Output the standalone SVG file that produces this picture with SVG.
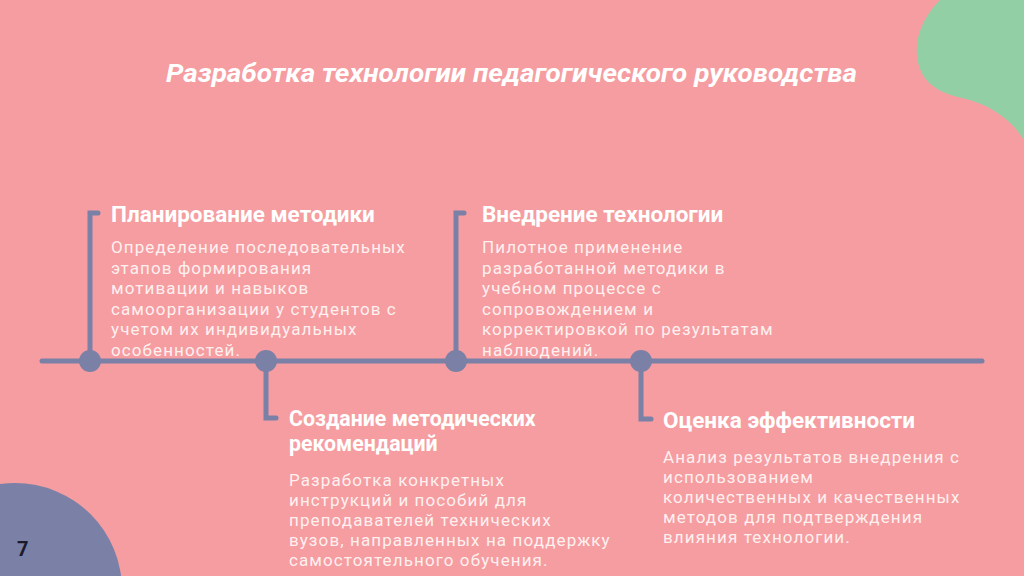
<svg xmlns="http://www.w3.org/2000/svg" width="1024" height="576" viewBox="0 0 1024 576">
<style>
.h{font-family:Roboto,"Liberation Sans",sans-serif;font-weight:bold;font-size:22.5px;fill:#ffffff}
.h2{font-family:Roboto,"Liberation Sans",sans-serif;font-weight:bold;font-size:21.3px;fill:#ffffff}
.b{font-family:Roboto,"Liberation Sans",sans-serif;font-size:17px;letter-spacing:1.1px;fill:#fff0f0}
.ln{stroke:#7A80A6;stroke-width:5;fill:none;stroke-linecap:round}
.dot{fill:#7A80A6}
</style>
<rect width="1024" height="576" fill="#F59DA0"/>
<path d="M940 0 C925 15 915 35 917 55 C919 80 935 92 962 98 C990 104 1012 120 1024 140 L1024 0 Z" fill="#92CFA5"/>
<circle cx="15" cy="590" r="107" fill="#7A80A6"/>
<text x="17" y="556" font-family="Roboto,'Liberation Sans',sans-serif" font-weight="bold" font-size="20" fill="#1a1a2a">7</text>
<text x="166" y="82" font-family="Roboto,'Liberation Sans',sans-serif" font-weight="bold" font-style="italic" font-size="26" fill="#ffffff" textLength="691" lengthAdjust="spacingAndGlyphs">Разработка технологии педагогического руководства</text>
<g id="connectors">
<line class="ln" x1="42" y1="361" x2="982" y2="361"/>
<polyline class="ln" points="98,213 90,213 90,361" stroke-linecap="butt"/>
<polyline class="ln" points="266,361 266,418 276,418" stroke-linecap="butt"/>
<polyline class="ln" points="464,213 456,213 456,361" stroke-linecap="butt"/>
<polyline class="ln" points="641,361 641,419 651,419" stroke-linecap="butt"/>
</g>
<g id="node1">
<circle class="dot" cx="90" cy="361" r="11"/>
<text class="h" x="111" y="222">Планирование методики</text>
<text class="b" x="111" y="253">Определение последовательных</text>
<text class="b" x="111" y="273.5">этапов формирования</text>
<text class="b" x="111" y="294">мотивации и навыков</text>
<text class="b" x="111" y="314.5">самоорганизации у студентов с</text>
<text class="b" x="111" y="335">учетом их индивидуальных</text>
<text class="b" x="111" y="355.5">особенностей.</text>
</g>
<g id="node2">
<circle class="dot" cx="266" cy="361" r="11"/>
<text class="h2" x="289" y="426">Создание методических</text>
<text class="h2" x="289" y="451">рекомендаций</text>
<text class="b" x="289" y="486">Разработка конкретных</text>
<text class="b" x="289" y="506">инструкций и пособий для</text>
<text class="b" x="289" y="526">преподавателей технических</text>
<text class="b" x="289" y="546">вузов, направленных на поддержку</text>
<text class="b" x="289" y="566">самостоятельного обучения.</text>
</g>
<g id="node3">
<circle class="dot" cx="456" cy="361" r="11"/>
<text class="h" x="482" y="222">Внедрение технологии</text>
<text class="b" x="482" y="253">Пилотное применение</text>
<text class="b" x="482" y="273.5">разработанной методики в</text>
<text class="b" x="482" y="294">учебном процессе с</text>
<text class="b" x="482" y="314.5">сопровождением и</text>
<text class="b" x="482" y="335">корректировкой по результатам</text>
<text class="b" x="482" y="355.5">наблюдений.</text>
</g>
<g id="node4">
<circle class="dot" cx="641" cy="361" r="11"/>
<text class="h" x="663" y="428">Оценка эффективности</text>
<text class="b" x="663" y="463">Анализ результатов внедрения с</text>
<text class="b" x="663" y="483">использованием</text>
<text class="b" x="663" y="503">количественных и качественных</text>
<text class="b" x="663" y="523">методов для подтверждения</text>
<text class="b" x="663" y="543">влияния технологии.</text>
</g>
</svg>
